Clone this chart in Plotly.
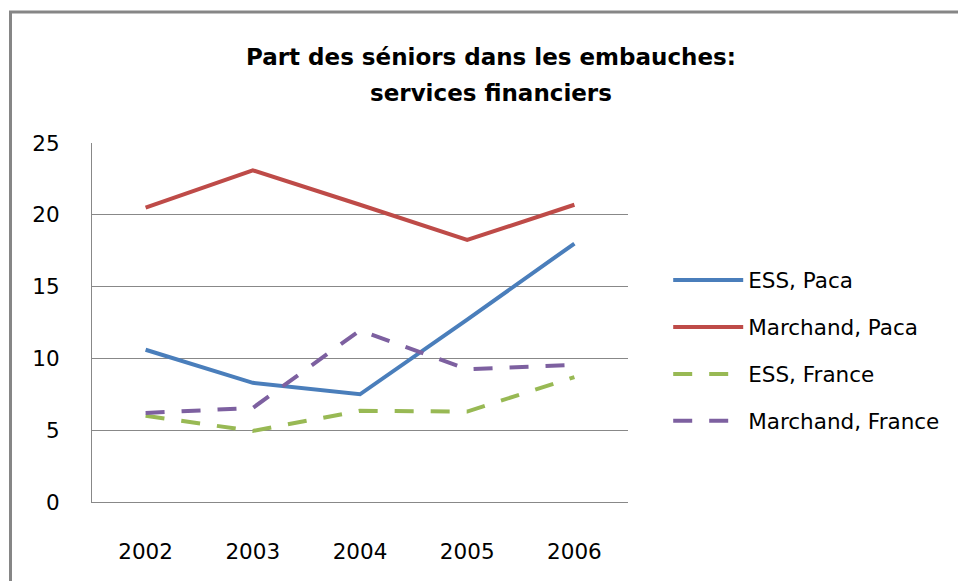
import plotly.graph_objects as go

years = ["2002", "2003", "2004", "2005", "2006"]
ess_paca = [10.6, 8.3, 7.5, 12.7, 18.0]
marchand_paca = [20.5, 23.1, 20.7, 18.25, 20.7]
ess_france = [6.0, 4.95, 6.35, 6.3, 8.7]
marchand_france = [6.2, 6.55, 11.95, 9.25, 9.55]

series_names = ["ESS, Paca", "Marchand, Paca", "ESS, France", "Marchand, France"]
series_values = [ess_paca, marchand_paca, ess_france, marchand_france]
title_lines = ["Part des séniors dans les embauches:", "services financiers"]

colors = ["#4A7EBB", "#BE4B48", "#98B954", "#7D60A0"]
dashes = ["solid", "solid", "19px,17px", "19px,17px"]

FONT = "'DejaVu Sans', sans-serif"

fig = go.Figure()
for i, (name, vals) in enumerate(zip(series_names, series_values)):
    fig.add_trace(go.Scatter(
        x=years, y=vals, name=name, mode="lines",
        line=dict(color=colors[i], width=4, dash=dashes[i]),
        legendgroup=f"g{i}",
    ))

for j, (txt, ypix) in enumerate(zip(title_lines, [57, 93])):
    fig.add_annotation(
        text=f"<b>{txt}</b>", xref="paper", yref="paper",
        x=(491 - 92) / 536, y=(502 - ypix) / 359,
        xanchor="center", yanchor="middle", showarrow=False,
        font=dict(family=FONT, size=23, color="#000"),
    )

fig.update_layout(
    width=958, height=581,
    margin=dict(l=92, r=330, t=143, b=79),
    paper_bgcolor="white", plot_bgcolor="white",
    font=dict(family=FONT, size=21.5, color="#000"),
    showlegend=True,
    legend=dict(
        x=1.075, xanchor="left", y=(502 - 350.5) / 359, yanchor="middle",
        font=dict(family=FONT, size=21.5),
        tracegroupgap=16, itemwidth=70,
        bgcolor="rgba(0,0,0,0)",
    ),
    xaxis=dict(
        type="category", range=[-0.5, 4.5],
        showgrid=False, showline=True, linecolor="#888", linewidth=1,
        ticks="", ticklabelstandoff=30, zeroline=False,
    ),
    yaxis=dict(
        range=[0, 25], dtick=5, tick0=0,
        showgrid=True, gridcolor="#888", gridwidth=1,
        showline=True, linecolor="#888", linewidth=1,
        ticks="", ticklabelstandoff=27, zeroline=False,
    ),
    shapes=[dict(
        type="rect", xref="paper", yref="paper",
        x0=(10.5 - 92) / 536, x1=1.7,
        y0=-0.4, y1=(502 - 12) / 359,
        line=dict(color="#868686", width=3), fillcolor="rgba(0,0,0,0)",
        layer="below",
    )],
)

fig.write_html("out.html", config={"displayModeBar": False},
               post_script="document.body.style.margin='0';")
